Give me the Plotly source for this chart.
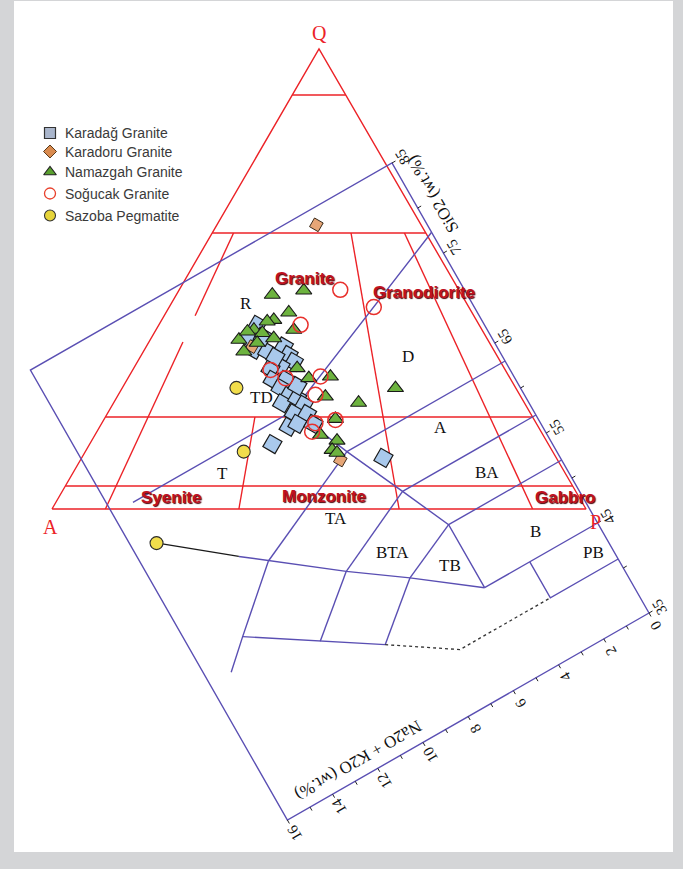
import numpy as np
import plotly.graph_objects as go

# ---------------- sample data: SiO2 and Na2O+K2O (wt.%) ----------------
karadag_sio2 = [77.91, 77.30, 75.98, 75.20, 74.82, 73.88, 73.05, 73.30, 73.59, 72.57,
                71.95, 71.52, 70.46, 70.15, 69.85, 68.98, 68.75, 68.06, 67.87, 67.69,
                66.92, 67.20, 60.72, 76.65, 74.35, 70.87]
karadag_alk = [7.57, 8.15, 8.16, 7.75, 7.10, 7.10, 7.06, 7.59, 7.97, 8.11,
               7.68, 8.00, 7.89, 8.24, 7.64, 7.55, 8.04, 7.61, 8.47, 8.12,
               7.59, 9.34, 5.90, 7.62, 7.58, 7.40]

karadoru_sio2 = [83.45, 76.33, 62.61]
karadoru_alk = [3.70, 8.16, 7.38]

namazgah_sio2 = [79.71, 78.56, 77.43, 77.53, 77.71, 75.74, 77.66, 76.98, 77.54, 76.00,
                 76.32, 76.41, 72.37, 70.98, 70.07, 68.64, 66.53, 65.99, 66.29, 65.67,
                 64.39, 63.85, 63.38, 77.82]
namazgah_alk = [6.50, 5.37, 6.29, 6.93, 7.18, 6.45, 7.78, 7.56, 8.47, 7.28,
                8.53, 7.92, 7.07, 6.87, 6.12, 6.67, 5.68, 4.17, 6.76, 7.56,
                7.12, 7.46, 7.35, 8.03]

sogucak_sio2 = [76.86, 73.81, 75.83, 73.50, 72.09, 70.55, 69.26, 66.20, 66.89, 66.33]
sogucak_alk = [4.14, 3.35, 6.13, 7.99, 7.65, 6.45, 6.97, 6.78, 7.51, 7.78]

sazoba_sio2 = [73.63, 67.94, 64.46]
sazoba_alk = [9.47, 10.44, 15.09]

# ---------------- TAS field boundaries (Le Bas et al.) ----------------
tas_frame = [(35, 0), (85, 0), (85, 16), (35, 16), (35, 0)]
tas_solid = [
    [(41, 0), (41, 3), (45, 3)],
    [(45, 0), (45, 5)],
    [(52, 0), (52, 5)],
    [(57, 0), (57, 5.9)],
    [(63, 0), (63, 7)],
    [(77.3, 0), (69, 8), (69, 15.1)],
    [(45, 5), (52, 5), (57, 5.9), (63, 7), (69, 8)],
    [(45, 5), (49.4, 7.3), (53, 9.3), (57.6, 11.7), (59.4, 12.6)],
    [(49.4, 7.3), (52, 5)],
    [(53, 9.3), (57, 5.9)],
    [(57.6, 11.7), (63, 7)],
    [(45, 9.4), (49.4, 7.3)],
    [(48.4, 11.5), (53, 9.3)],
    [(50.07, 15.06), (52.5, 14), (57.6, 11.7)],
    [(45, 9.4), (48.4, 11.5), (52.5, 14)],
]
tas_black = [[(59.4, 12.6), (64.5, 15.1)]]
tas_dotted = [[(45, 9.4), (41, 7), (41, 3)]]

tas_fields = ["R", "TD", "D", "A", "BA", "B", "PB", "T", "TA", "BTA", "TB"]
tas_field_pos = [(246, 303), (261, 397), (408, 356), (440, 427), (487, 472), (535, 531),
                 (593, 552), (222, 473), (336, 518), (392, 552), (450, 565)]

sio2_ticks = list(range(35, 86, 5))
sio2_labels = [35, 45, 55, 65, 75, 85]
alk_ticks = list(range(0, 17))
alk_labels = list(range(0, 17, 2))

# ---------------- QAP (Streckeisen) boundaries ----------------
qap_horizontal = [0.9, 0.6, 0.2, 0.05]            # Q fraction
qap_ratio_lines = [(0.10, 0.60, 0.42), (0.10, 0.363, 0.0),
                   (0.35, 0.20, 0.0), (0.65, 0.60, 0.0), (0.90, 0.60, 0.0)]  # P/(A+P), Q from, Q to
qap_fields = ["Granite", "Granodiorite", "Syenite", "Monzonite", "Gabbro"]
qap_field_pos = [(305, 278), (424, 292), (171, 497), (324, 496), (565, 497)]

# ---------------- geometry of the two diagrams on the page ----------------
TAS_O = np.array([649.0, 613.0])       # SiO2 = 35, alkalis = 0
TAS_U = np.array([-5.14, -9.00])       # one wt.% SiO2
TAS_V = np.array([-22.6, 12.94])       # one wt.% Na2O+K2O
U_HAT = TAS_U / np.linalg.norm(TAS_U)
V_HAT = TAS_V / np.linalg.norm(TAS_V)

Q_APEX = np.array([319.0, 49.0])
A_VERT = np.array([52.0, 509.0])
P_VERT = np.array([586.0, 509.0])

RED = "#ec2227"
BLUE = "#5a4fb3"


def tas_xy(s, a):
    s = np.asarray(s, float)
    a = np.asarray(a, float)
    x = TAS_O[0] + (s - 35) * TAS_U[0] + a * TAS_V[0]
    y = TAS_O[1] + (s - 35) * TAS_U[1] + a * TAS_V[1]
    return x, y


def qap_xy(q, r):
    base = A_VERT + r * (P_VERT - A_VERT)
    return Q_APEX * q + base * (1 - q)


fig = go.Figure()


def add_polylines(polys, color, width, dash="solid"):
    xs, ys = [], []
    for poly in polys:
        for px, py in poly:
            xs.append(px)
            ys.append(py)
        xs.append(None)
        ys.append(None)
    fig.add_trace(go.Scatter(x=xs, y=ys, mode="lines", hoverinfo="skip", showlegend=False,
                             line=dict(color=color, width=width, dash=dash)))


def tas_poly(poly):
    out = []
    for s, a in poly:
        x, y = tas_xy(s, a)
        out.append((float(x), float(y)))
    return out


# QAP triangle and its field boundaries
red_polys = [[tuple(A_VERT), tuple(P_VERT), tuple(Q_APEX), tuple(A_VERT)]]
for q in qap_horizontal:
    red_polys.append([tuple(qap_xy(q, 0)), tuple(qap_xy(q, 1))])
for r, q0, q1 in qap_ratio_lines:
    red_polys.append([tuple(qap_xy(q0, r)), tuple(qap_xy(q1, r))])
add_polylines(red_polys, RED, 1.4)

# TAS frame, fields and axes
blue_polys = [tas_poly(tas_frame)] + [tas_poly(p) for p in tas_solid]
tick_polys = []
for s in sio2_ticks:
    x, y = tas_xy(s, 0)
    tick_polys.append([(float(x), float(y)), (float(x - 4 * V_HAT[0]), float(y - 4 * V_HAT[1]))])
for a in alk_ticks:
    x, y = tas_xy(35, a)
    tick_polys.append([(float(x), float(y)), (float(x - 4 * U_HAT[0]), float(y - 4 * U_HAT[1]))])
add_polylines(blue_polys, BLUE, 1.4)
add_polylines(tick_polys, "#222222", 1.0)
add_polylines([tas_poly(p) for p in tas_black], "#1a1a1a", 1.2)
add_polylines([tas_poly(p) for p in tas_dotted], "#333333", 1.3, dash="dot")

# samples
series = [
    (karadag_sio2, karadag_alk, dict(symbol="square", size=14, color="#a9c9ec", angle=30,
                                     line=dict(color="#1a1a1a", width=1.2))),
    (karadoru_sio2, karadoru_alk, dict(symbol="square", size=10, color="#e6a677", angle=30,
                                       line=dict(color="#3a2a1a", width=1.0))),
    (namazgah_sio2, namazgah_alk, dict(symbol="triangle-up", size=14, color="#6db33f",
                                       line=dict(color="#1a1a1a", width=1.1))),
    (sogucak_sio2, sogucak_alk, dict(symbol="circle-open", size=15, color="#e8302c",
                                     line=dict(color="#e8302c", width=1.5))),
    (sazoba_sio2, sazoba_alk, dict(symbol="circle", size=13, color="#f1dd4b",
                                   line=dict(color="#2a2a2a", width=1.1))),
]
for s, a, mk in series:
    x, y = tas_xy(s, a)
    fig.add_trace(go.Scatter(x=x, y=y, mode="markers", marker=mk, showlegend=False,
                             hoverinfo="skip"))

# legend
legend_names = ["Karadağ Granite", "Karadoru Granite", "Namazgah Granite",
                "Soğucak Granite", "Sazoba Pegmatite"]
legend_rows = [133, 151.5, 172, 193.5, 215.5]
legend_markers = [
    dict(symbol="square", size=11, color="#aab6cc", line=dict(color="#333333", width=1.2)),
    dict(symbol="diamond", size=10, color="#d98b4f", line=dict(color="#5a3a1a", width=1.0)),
    dict(symbol="triangle-up", size=11, color="#5aa12f", line=dict(color="#222222", width=1.1)),
    dict(symbol="circle-open", size=11, color="#e8402c", line=dict(color="#e8402c", width=1.3)),
    dict(symbol="circle", size=11, color="#e6d43a", line=dict(color="#333333", width=1.1)),
]
for yy, mk in zip(legend_rows, legend_markers):
    fig.add_trace(go.Scatter(x=[50], y=[yy], mode="markers", marker=mk, showlegend=False,
                             hoverinfo="skip"))

annotations = []
for name, yy in zip(legend_names, legend_rows):
    annotations.append(dict(x=63, y=yy, text=name, xanchor="left", yanchor="middle",
                            font=dict(family="Liberation Sans, Arial", size=14, color="#3a3a3a")))

serif = "Liberation Serif, Times New Roman, serif"

# QAP apices
for txt, (x, y) in zip(["Q", "A", "P"], [(319, 33), (50, 527), (595, 522)]):
    annotations.append(dict(x=x, y=y, text=txt, font=dict(family=serif, size=20, color=RED)))

# QAP field names
for txt, (x, y) in zip(qap_fields, qap_field_pos):
    annotations.append(dict(x=x, y=y, text="<b>" + txt + "</b>",
                            font=dict(family="Liberation Sans, Arial", size=17, color="#c0111e",
                                      shadow="1px 1px 1px #4a0006")))

# TAS field names
for txt, (x, y) in zip(tas_fields, tas_field_pos):
    annotations.append(dict(x=x, y=y, text=txt, font=dict(family=serif, size=17, color="#111111")))

# TAS tick labels
for s in sio2_labels:
    x, y = tas_xy(s, 0)
    annotations.append(dict(x=float(x - 12 * V_HAT[0]), y=float(y - 12 * V_HAT[1]), text=str(s),
                            textangle=-120, font=dict(family=serif, size=15, color="#111111")))
for a in alk_labels:
    x, y = tas_xy(35, a)
    annotations.append(dict(x=float(x - 14 * U_HAT[0]), y=float(y - 14 * U_HAT[1]), text=str(a),
                            textangle=-120, font=dict(family=serif, size=15, color="#111111")))

# TAS axis titles
x, y = tas_xy(80.5, 0)
annotations.append(dict(x=float(x - 20 * V_HAT[0]), y=float(y - 20 * V_HAT[1]), text="SiO2 (wt.%)",
                        textangle=-120, font=dict(family=serif, size=17, color="#111111")))
x, y = tas_xy(36.6, 12.5)
annotations.append(dict(x=float(x), y=float(y), text="Na2O + K2O (wt.%)", textangle=150,
                        font=dict(family=serif, size=17, color="#111111")))

for an in annotations:
    an.setdefault("showarrow", False)
    an.setdefault("xanchor", "center")
    an.setdefault("yanchor", "middle")
    an["xref"] = "x"
    an["yref"] = "y"

fig.update_layout(
    width=683, height=869,
    margin=dict(l=0, r=0, t=0, b=0),
    paper_bgcolor="#d4d5d7", plot_bgcolor="#d4d5d7",
    xaxis=dict(range=[0, 683], visible=False, fixedrange=True),
    yaxis=dict(range=[869, 0], visible=False, fixedrange=True),
    showlegend=False,
    annotations=annotations,
    shapes=[dict(type="rect", xref="x", yref="y", x0=14, x1=673, y0=1, y1=852,
                 fillcolor="white", line=dict(width=0), layer="below")],
)

fig.write_html("out.html", config=dict(displayModeBar=False))
